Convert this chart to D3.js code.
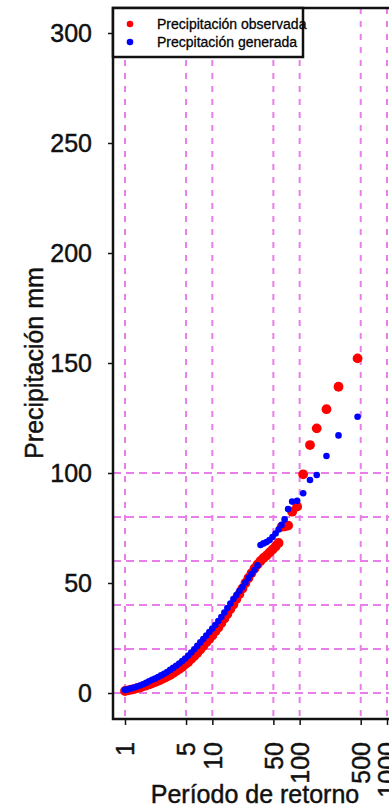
<!DOCTYPE html>
<html>
<head>
<meta charset="utf-8">
<script src="https://cdn.jsdelivr.net/npm/d3@7"></script>
<style>
  body { margin: 0; background: #fff; }
  svg { display: block; font-family: "Liberation Sans", Arial, sans-serif; }
  text { stroke: #111; stroke-width: 0.45px; }
</style>
</head>
<body>
<svg id="chart" width="389" height="811"></svg>
<script>
// Return periods (years) shared by both series
const returnPeriod = [1.00, 1.083, 1.172, 1.269, 1.374, 1.487, 1.610, 1.743, 1.887, 2.043,
  2.212, 2.395, 2.593, 2.807, 3.039, 3.290, 3.562, 3.857, 4.175, 4.520,
  4.894, 5.298, 5.736, 6.210, 6.723, 7.279, 7.880, 8.531, 9.237, 10.0,
  10.83, 11.72, 12.69, 13.74, 14.87, 16.10, 17.43, 18.87, 20.43, 22.12,
  23.95, 25.93, 28.07, 30.39, 32.90, 35.62, 38.57, 41.75, 45.20, 48.94,
  52.98, 57.36, 62.10, 67.23, 73.77, 82.01, 93.61, 109.7, 131.3, 156.8,
  202.7, 278.5, 460.4];

// Observed precipitation (mm)
const observedMm = [0.9, 1.2, 1.5, 1.8, 2.2, 2.5, 3.0, 3.4, 3.9, 4.4,
  5.0, 5.5, 6.1, 6.8, 7.5, 8.2, 9.1, 10.0, 10.9, 11.8,
  13.0, 14.1, 15.5, 16.8, 18.2, 19.8, 21.4, 23.0, 24.5, 26.1,
  28.0, 29.8, 31.8, 33.9, 35.9, 38.2, 40.2, 42.7, 45.0, 47.5,
  50.0, 52.3, 54.5, 56.6, 58.4, 60.0, 61.4, 62.5, 63.9, 65.2,
  66.6, 68.2, 75.5, 75.7, 76.1, 82.4, 84.7, 99.4, 112.7, 120.3,
  129.0, 139.2, 152.1];

// Generated precipitation (mm)
const generatedMm = [1.4, 1.7, 2.1, 2.5, 2.9, 3.4, 4.0, 4.6, 5.3, 6.0,
  6.6, 7.3, 8.0, 8.7, 9.5, 10.5, 11.4, 12.4, 13.4, 14.5,
  15.7, 17.0, 18.4, 19.9, 21.4, 23.0, 24.5, 26.1, 27.7, 29.3,
  30.9, 32.7, 34.5, 36.6, 38.6, 40.7, 42.7, 44.5, 46.4, 48.2,
  50.2, 52.3, 54.1, 55.9, 58.0, 67.3, 68.0, 68.6, 69.5, 70.9,
  72.5, 74.3, 76.4, 78.9, 83.6, 87.0, 87.4, 90.8, 96.8, 99.1,
  107.7, 117.1, 125.6];

const xTicks = [1, 5, 10, 50, 100, 500, 1000];
const yTicks = [0, 50, 100, 150, 200, 250, 300];
const yGrid = [0, 20, 40, 60, 80, 100];
const legendLabels = ["Precipitación observada", "Precpitación generada"];
const seriesColors = ["#ff0000", "#0000ff"];

const svg = d3.select("#chart");

// Plot box (right edge falls outside the window, as in the original)
const box = { left: 113, top: 8, right: 397, bottom: 719 };

const x = d3.scaleLog().domain([1, 1000]).range([125, 387]);
const y = d3.scaleLinear().domain([0, 300]).range([693, 33]);

const gridColor = "#e77ee9";

// Vertical grid lines
svg.append("g")
  .selectAll("line")
  .data(xTicks)
  .join("line")
  .attr("x1", d => x(d))
  .attr("x2", d => x(d))
  .attr("y1", box.top)
  .attr("y2", box.bottom)
  .attr("stroke", gridColor)
  .attr("stroke-width", 2)
  .attr("stroke-dasharray", "6,7");

// Horizontal grid lines
svg.append("g")
  .selectAll("line")
  .data(yGrid)
  .join("line")
  .attr("x1", box.left)
  .attr("x2", box.right)
  .attr("y1", d => y(d))
  .attr("y2", d => y(d))
  .attr("stroke", gridColor)
  .attr("stroke-width", 2)
  .attr("stroke-dasharray", "8,5");

// Points: observed first, generated on top
svg.append("g")
  .selectAll("circle")
  .data(returnPeriod)
  .join("circle")
  .attr("cx", d => x(d))
  .attr("cy", (d, i) => y(observedMm[i]))
  .attr("r", 4.9)
  .attr("fill", seriesColors[0]);

svg.append("g")
  .selectAll("circle")
  .data(returnPeriod)
  .join("circle")
  .attr("cx", d => x(d))
  .attr("cy", (d, i) => y(generatedMm[i]))
  .attr("r", 3.3)
  .attr("fill", seriesColors[1]);

// Box
svg.append("path")
  .attr("d", `M${box.right},${box.top}H${box.left}V${box.bottom}H${box.right}`)
  .attr("fill", "none")
  .attr("stroke", "#111")
  .attr("stroke-width", 2.5);

// Y axis
const yAxis = svg.append("g")
  .attr("transform", `translate(${box.left},0)`)
  .call(d3.axisLeft(y).tickValues(yTicks).tickSize(5).tickPadding(16));
yAxis.select(".domain").remove();
yAxis.selectAll(".tick line").attr("stroke", "#111").attr("stroke-width", 1.5);
yAxis.selectAll(".tick text")
  .attr("font-size", 25)
  .attr("fill", "#111")
  .attr("font-family", "Liberation Sans, Arial, sans-serif");

// X axis
const xAxis = svg.append("g")
  .attr("transform", `translate(0,${box.bottom})`)
  .call(d3.axisBottom(x).tickValues(xTicks).tickSize(6).tickFormat(d3.format("d")));
xAxis.select(".domain").remove();
xAxis.selectAll(".tick line").attr("stroke", "#111").attr("stroke-width", 1.5);
xAxis.selectAll(".tick text")
  .attr("font-size", 25)
  .attr("fill", "#111")
  .attr("font-family", "Liberation Sans, Arial, sans-serif")
  .attr("text-anchor", "end")
  .attr("transform", "translate(0,23) rotate(-90)")
  .attr("x", 0)
  .attr("y", 0)
  .attr("dy", "0.35em");

// Axis titles
svg.append("text")
  .attr("x", 255)
  .attr("y", 803)
  .attr("text-anchor", "middle")
  .attr("font-size", 25)
  .attr("fill", "#111")
  .text("Período de retorno");

svg.append("text")
  .attr("transform", "translate(43,363) rotate(-90)")
  .attr("text-anchor", "middle")
  .attr("font-size", 25)
  .attr("fill", "#111")
  .text("Precipitación mm");

// Legend
const legend = svg.append("g");
legend.append("rect")
  .attr("x", box.left)
  .attr("y", box.top)
  .attr("width", 190)
  .attr("height", 49)
  .attr("fill", "#fff")
  .attr("stroke", "#111")
  .attr("stroke-width", 2.5);

legend.selectAll("circle")
  .data(legendLabels)
  .join("circle")
  .attr("cx", 130)
  .attr("cy", (d, i) => 24 + i * 18)
  .attr("r", 3.3)
  .attr("fill", (d, i) => seriesColors[i]);

legend.selectAll("text")
  .data(legendLabels)
  .join("text")
  .attr("x", 157)
  .attr("y", (d, i) => 29 + i * 18)
  .attr("font-size", 14)
  .attr("fill", "#000")
  .style("stroke-width", "0.3px")
  .text(d => d);
</script>
</body>
</html>
